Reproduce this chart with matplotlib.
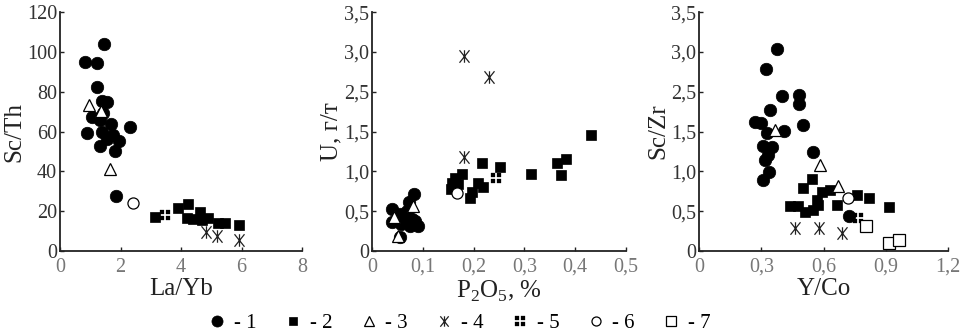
import numpy as np
import matplotlib
matplotlib.use("Agg")
import matplotlib.pyplot as plt
from matplotlib.path import Path
from matplotlib.lines import Line2D

plt.rcParams['font.family'] = ['Liberation Serif', 'DejaVu Serif']
plt.rcParams['mathtext.fontset'] = 'custom'
plt.rcParams['mathtext.rm'] = 'Liberation Serif'

# ---- panel 1: La/Yb vs Sc/Th ----
la_yb_1 = [1.45, 0.83, 1.23, 1.23, 1.38, 1.54, 1.05, 1.41, 1.32, 1.68, 0.88, 1.38,
           2.31, 1.76, 1.54, 1.96, 1.32, 1.82, 1.85]
sc_th_1 = [103.9, 94.8, 94.3, 82.6, 75.5, 75.0, 67.5, 69.5, 65.8, 63.8, 59.4, 60.0,
           62.2, 58.3, 56.1, 55.4, 52.8, 50.4, 27.6]
la_yb_2 = [3.14, 3.91, 4.24, 4.19, 4.63, 4.68, 4.90, 5.23, 5.45, 5.90, 4.41]
sc_th_2 = [17.2, 21.4, 23.6, 16.4, 19.8, 15.6, 16.4, 13.9, 13.9, 13.1, 15.9]
la_yb_3 = [0.97, 1.35, 1.65]
sc_th_3 = [73.4, 70.5, 41.0]
la_yb_4 = [4.83, 5.18, 5.90]
sc_th_4 = [9.7, 7.5, 5.5]
la_yb_5 = [3.47]
sc_th_5 = [18.1]
la_yb_6 = [2.40]
sc_th_6 = [24.0]

# ---- panel 2: P2O5 vs U ----
p2o5_1 = [0.083, 0.072, 0.039, 0.055, 0.065, 0.068, 0.039, 0.058, 0.075, 0.091,
          0.085, 0.055, 0.078, 0.060]
u_1 = [0.71, 0.61, 0.53, 0.46, 0.44, 0.50, 0.36, 0.34, 0.32, 0.32, 0.38, 0.17, 0.40, 0.40]
p2o5_2 = [0.432, 0.382, 0.364, 0.373, 0.314, 0.216, 0.252, 0.178, 0.163, 0.158,
          0.156, 0.170, 0.209, 0.219, 0.196, 0.193]
u_2 = [1.46, 1.16, 1.11, 0.96, 0.97, 1.10, 1.05, 0.97, 0.92, 0.86, 0.78, 0.84,
       0.86, 0.80, 0.74, 0.67]
p2o5_3 = [0.080, 0.044, 0.051]
u_3 = [0.57, 0.43, 0.19]
p2o5_4 = [0.181, 0.230, 0.181]
u_4 = [2.95, 2.68, 1.18]
p2o5_5 = [0.245]
u_5 = [0.92]
p2o5_6 = [0.167]
u_6 = [0.73]

# ---- panel 3: Y/Co vs Sc/Zr ----
y_co_1 = [0.378, 0.321, 0.398, 0.483, 0.483, 0.342, 0.270, 0.297, 0.503, 0.326,
          0.410, 0.310, 0.350, 0.334, 0.318, 0.339, 0.310, 0.551, 0.724]
sc_zr_1 = [3.03, 2.78, 2.38, 2.42, 2.18, 2.04, 1.74, 1.72, 1.66, 1.48, 1.51, 1.32,
           1.31, 1.20, 1.14, 0.99, 0.89, 1.24, 0.44]
y_co_2 = [0.543, 0.503, 0.591, 0.631, 0.567, 0.667, 0.760, 0.821, 0.917, 0.439,
          0.479, 0.511, 0.551, 0.575]
sc_zr_2 = [0.91, 0.79, 0.74, 0.77, 0.64, 0.58, 0.70, 0.66, 0.55, 0.56, 0.56, 0.49,
           0.51, 0.58]
y_co_3 = [0.366, 0.583, 0.668]
sc_zr_3 = [1.55, 1.08, 0.81]
y_co_4 = [0.463, 0.580, 0.688]
sc_zr_4 = [0.285, 0.285, 0.22]
y_co_5 = [0.768]
sc_zr_5 = [0.41]
y_co_6 = [0.719]
sc_zr_6 = [0.66]
y_co_7 = [0.805, 0.917, 0.964]
sc_zr_7 = [0.31, 0.10, 0.14]

legend_labels = ['- 1', '- 2', '- 3', '- 4', '- 5', '- 6', '- 7']


def cross_square():
    g = 0.22
    verts, codes = [], []
    for sx, sy in [(-1, -1), (g, -1), (-1, g), (g, g)]:
        w = 1 - g
        verts += [(sx, sy), (sx + w, sy), (sx + w, sy + w), (sx, sy + w), (sx, sy)]
        codes += [Path.MOVETO, Path.LINETO, Path.LINETO, Path.LINETO, Path.CLOSEPOLY]
    return Path(verts, codes)


def zhe():
    # X with a vertical bar through it
    verts = [(-0.8, -1), (0.8, 1), (-0.8, 1), (0.8, -1), (0, -1), (0, 1)]
    codes = [Path.MOVETO, Path.LINETO] * 3
    return Path(verts, codes)


styles = {
    1: dict(marker='o', ms=9, mfc='black', mec='black', mew=0.5),
    2: dict(marker='s', ms=7.5, mfc='black', mec='black', mew=0.5),
    3: dict(marker='^', ms=8, mfc='white', mec='black', mew=0.9),
    4: dict(marker=zhe(), ms=9, mfc='none', mec='#222222', mew=0.9),
    5: dict(marker=cross_square(), ms=7.5, mfc='black', mec='black', mew=0.2),
    6: dict(marker='o', ms=8, mfc='white', mec='black', mew=0.9),
    7: dict(marker='s', ms=8, mfc='white', mec='black', mew=0.9),
}


def fwd(v):
    v = np.asarray(v, dtype=float)
    return np.where(v <= 1.5, v, np.where(v <= 2.5, 1.5 + (v - 1.5) * 0.5, v - 0.5))


def inv(p):
    p = np.asarray(p, dtype=float)
    return np.where(p <= 1.5, p, np.where(p <= 2.0, 1.5 + (p - 1.5) * 2.0, p + 0.5))


def comma(vals):
    return ['0' if v == 0 else ('%.1f' % v).replace('.', ',') for v in vals]


fig = plt.figure(figsize=(9.74, 3.35), dpi=100)
ax1 = fig.add_axes([0.0616, 0.2507, 0.2485, 0.7133])
ax2 = fig.add_axes([0.3819, 0.2507, 0.2608, 0.7133])
ax3 = fig.add_axes([0.7177, 0.2507, 0.2556, 0.7133])

order = [1, 2, 5, 4, 3, 6, 7]
panel1 = {1: (la_yb_1, sc_th_1), 2: (la_yb_2, sc_th_2), 3: (la_yb_3, sc_th_3),
          4: (la_yb_4, sc_th_4), 5: (la_yb_5, sc_th_5), 6: (la_yb_6, sc_th_6)}
panel2 = {1: (p2o5_1, u_1), 2: (p2o5_2, u_2), 3: (p2o5_3, u_3),
          4: (p2o5_4, u_4), 5: (p2o5_5, u_5), 6: (p2o5_6, u_6)}
panel3 = {1: (y_co_1, sc_zr_1), 2: (y_co_2, sc_zr_2), 3: (y_co_3, sc_zr_3),
          4: (y_co_4, sc_zr_4), 5: (y_co_5, sc_zr_5), 6: (y_co_6, sc_zr_6),
          7: (y_co_7, sc_zr_7)}

for ax, data in [(ax1, panel1), (ax2, panel2), (ax3, panel3)]:
    for k in order:
        if k in data:
            xs, ys = data[k]
            ax.plot(xs, ys, linestyle='none', clip_on=False, **styles[k])

ax1.set_xlim(0, 8)
ax1.set_ylim(0, 120)
ax1.set_xticks([0, 2, 4, 6, 8])
ax1.set_yticks(range(0, 121, 20))

yt = [0, 0.5, 1.0, 1.5, 2.5, 3.0, 3.5]
for ax in (ax2, ax3):
    ax.set_yscale('function', functions=(fwd, inv))
    ax.set_ylim(0, 3.5)
    ax.set_yticks(yt)
    ax.set_yticklabels(comma(yt))
    ax.minorticks_off()

ax2.set_xlim(0, 0.5)
xt2 = [0, 0.1, 0.2, 0.3, 0.4, 0.5]
ax2.set_xticks(xt2)
ax2.set_xticklabels(comma(xt2))

ax3.set_xlim(0, 1.2)
xt3 = [0, 0.3, 0.6, 0.9, 1.2]
ax3.set_xticks(xt3)
ax3.set_xticklabels(comma(xt3))

lab = dict(fontsize=18, color='#222222', labelpad=1)
ax1.set_xlabel('La/Yb', **lab)
ax1.set_ylabel('Sc/Th', **lab)
ax2.set_xlabel(r'P$_\mathregular{2}$O$_\mathregular{5}$, %', **lab)
ax2.set_ylabel('U, г/т', **lab)
ax3.set_xlabel('Y/Co', **lab)
ax3.set_ylabel('Sc/Zr', **lab)

for ax in (ax1, ax2, ax3):
    for s in ('top', 'right'):
        ax.spines[s].set_visible(False)
    for s in ('left', 'bottom'):
        ax.spines[s].set_linewidth(1.3)
        ax.spines[s].set_color('#222222')
    ax.tick_params(direction='in', length=3, width=1, colors='#222222')
    ax.tick_params(axis='y', labelsize=14.5, labelcolor='#333333', pad=2)
    ax.tick_params(axis='x', labelsize=14.5, labelcolor='#777777', pad=5)

handles = []
leg_ms = {1: 8, 2: 6, 3: 6.5, 4: 7.5, 5: 6.5, 6: 6.5, 7: 6.5}
for k in range(1, 8):
    st = dict(styles[k])
    st['ms'] = leg_ms[k]
    handles.append(Line2D([], [], linestyle='none', **st))
fig.legend(handles, legend_labels, loc='center', bbox_to_anchor=(0.471, 0.035),
           ncol=7, frameon=False, fontsize=15, handlelength=1.0,
           handletextpad=0.3, columnspacing=1.25, borderaxespad=0)

fig.savefig('out.png', dpi=100)
